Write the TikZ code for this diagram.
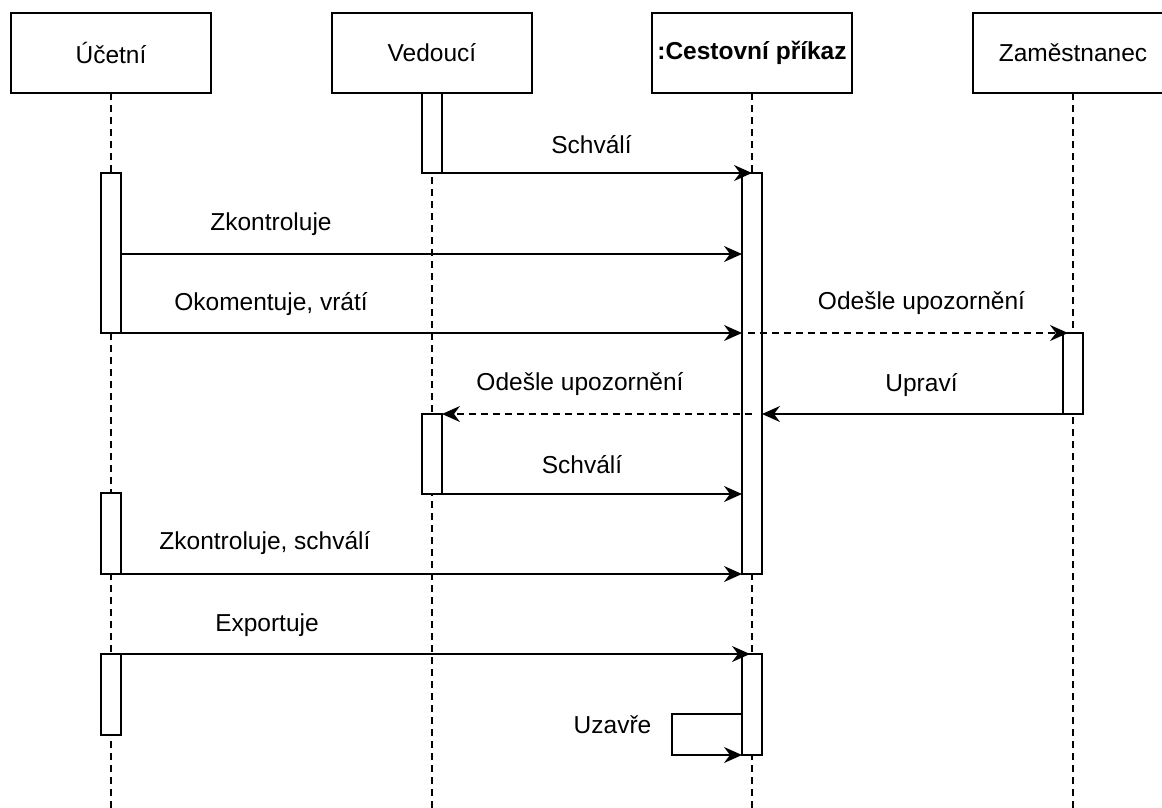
\documentclass[tikz,border=0pt]{standalone}
\usepackage{fontspec}
\setmainfont{Liberation Sans}
\usetikzlibrary{arrows.meta}
\begin{document}
\begin{tikzpicture}[x=1pt,y=-1pt,
  head/.style={draw, line width=1.8pt, minimum width=200pt, minimum height=80pt, inner sep=0pt, outer sep=0pt, font=\fontsize{24.5}{29}\selectfont},
  act/.style={draw, fill=white, line width=1.8pt, minimum width=20pt, inner sep=0pt, outer sep=0pt, anchor=north},
  life/.style={line width=1.4pt, dash pattern=on 7pt off 5pt},
  msg/.style={line width=1.8pt, -{Stealth[length=18pt,width=16pt,inset=6pt]}},
  ret/.style={msg, dash pattern=on 7pt off 5pt},
  lbl/.style={font=\fontsize{24.5}{29}\selectfont, inner sep=0pt}
]
\useasboundingbox (0,0) rectangle (1162,807);
% headers
\node[head] (hU) at (111,53) {Účetní};
\node[head] (hV) at (432,53) {Vedoucí};
\node[head] (hC) at (752,53) {\bfseries :Cestovní příkaz};
\node[head] (hZ) at (1073,53) {Zaměstnanec};
% lifeline ends
\coordinate (eU) at (111,810);
\coordinate (eV) at (432,810);
\coordinate (eC) at (752,810);
\coordinate (eZ) at (1073,810);
\draw[life] (hU.south) -- (eU);
\draw[life] (hV.south) -- (eV);
\draw[life] (hC.south) -- (eC);
\draw[life] (hZ.south) -- (eZ);
% activations
\node[act, minimum height=160pt] (u1) at (111,173) {};
\node[act, minimum height=81pt] (u2) at (111,493) {};
\node[act, minimum height=81pt] (u3) at (111,654) {};
\node[act, minimum height=80pt] (v1) at (432,93) {};
\node[act, minimum height=80pt] (v2) at (432,414) {};
\node[act, minimum height=401pt] (c1) at (752,173) {};
\node[act, minimum height=101pt] (c2) at (752,654) {};
\node[act, minimum height=81pt] (z1) at (1073,333) {};
% messages
\draw[msg] (v1.south west) -- (c1.north);
\draw[msg] ([yshift=-81pt]u1.north east) -- ([yshift=-81pt]c1.north west);
\draw[msg] (u1.south east) -- ([yshift=-160pt]c1.north west);
\draw[ret] ([xshift=6pt,yshift=-160pt]c1.north west) -- ([xshift=5pt]z1.north west);
\draw[msg] (z1.south west) -- ([yshift=-241pt]c1.north east);
\draw[ret] ([yshift=-241pt]c1.north) -- (v2.north east);
\draw[msg] (v2.south east) -- ([yshift=-321pt]c1.north west);
\draw[msg] (u2.south east) -- (c1.south west);
\draw[msg] (u3.north west) -- ([xshift=-2pt]c2.north);
\draw[msg] ([yshift=-60pt]c2.north west) -- ++(-70,0) |- (c2.south west);
% labels
\node[lbl] (l1) at (591.5,145) {Schválí};
\node[lbl] (l2) at (271,224) {Zkontroluje};
\node[lbl] (l3) at (271,304) {Okomentuje, vrátí};
\node[lbl] (l4) at (921.5,303) {Odešle upozornění};
\node[lbl] (l5) at (580,384) {Odešle upozornění};
\node[lbl] (l6) at (921.5,385) {Upraví};
\node[lbl] (l7) at (582,465) {Schválí};
\node[lbl] (l8) at (265,543) {Zkontroluje, schválí};
\node[lbl] (l9) at (267,625) {Exportuje};
\node[lbl] (l10) at (612.5,725) {Uzavře};
\end{tikzpicture}
\end{document}
